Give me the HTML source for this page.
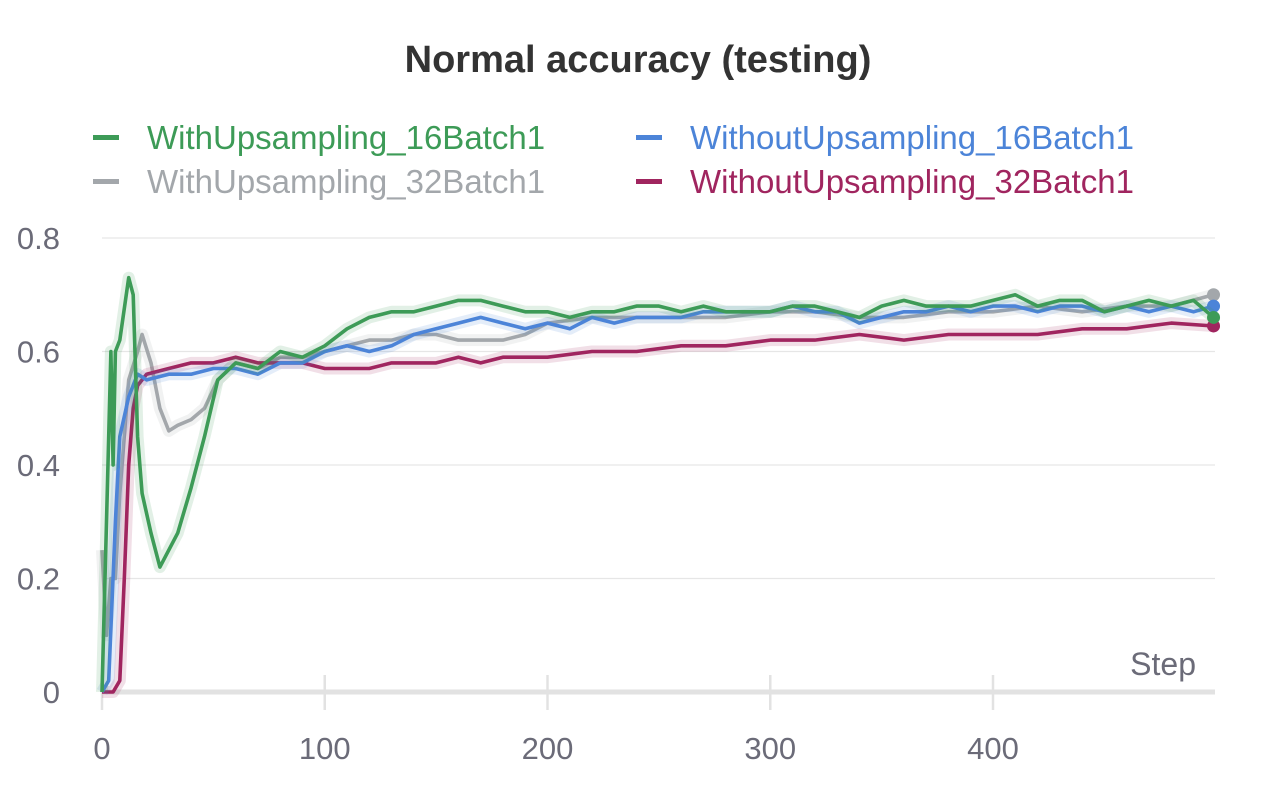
<!DOCTYPE html>
<html><head><meta charset="utf-8"><style>
html,body{margin:0;padding:0;background:#fff;}
body{width:1275px;height:783px;overflow:hidden;font-family:"Liberation Sans",Arial,sans-serif;}
</style></head><body>
<svg id="chart" width="1275" height="783" xmlns="http://www.w3.org/2000/svg" font-family="Liberation Sans, Arial, sans-serif">
<text x="638" y="72" text-anchor="middle" font-size="38" font-weight="bold" fill="#333">Normal accuracy (testing)</text>
<g font-size="33">
 <g><rect x="93" y="135" width="26" height="5" fill="#3d9b57"/><text x="147" y="149" fill="#3d9b57">WithUpsampling_16Batch1</text></g>
 <g><rect x="636" y="135" width="26" height="5" fill="#4c84d8"/><text x="690" y="149" fill="#4c84d8">WithoutUpsampling_16Batch1</text></g>
 <g><rect x="93" y="179" width="26" height="5" fill="#a3a7ab"/><text x="147" y="193" fill="#a3a7ab">WithUpsampling_32Batch1</text></g>
 <g><rect x="636" y="179" width="26" height="5" fill="#a0255f"/><text x="690" y="193" fill="#a0255f">WithoutUpsampling_32Batch1</text></g>
</g>
<g id="grid"></g>
<g id="xaxis"></g>
<g id="yaxis"></g>
<text x="1196" y="675" text-anchor="end" font-size="32" fill="#6b6b78">Step</text>
<g id="series"></g>
</svg>
<script>
const greenSteps=[0,2,4,5,6,8,12,14,16,18,22,26,30,34,40,46,52,60,70,80,90,100,110,120,130,140,150,160,170,180,190,200,210,220,230,240,250,260,270,280,290,300,310,320,330,340,350,360,370,380,390,400,410,420,430,440,450,460,470,480,490,499];
const greenVals=[0,0.3,0.6,0.4,0.6,0.62,0.73,0.7,0.45,0.35,0.28,0.22,0.25,0.28,0.36,0.45,0.55,0.58,0.57,0.6,0.59,0.61,0.64,0.66,0.67,0.67,0.68,0.69,0.69,0.68,0.67,0.67,0.66,0.67,0.67,0.68,0.68,0.67,0.68,0.67,0.67,0.67,0.68,0.68,0.67,0.66,0.68,0.69,0.68,0.68,0.68,0.69,0.70,0.68,0.69,0.69,0.67,0.68,0.69,0.68,0.69,0.66];
const blueSteps=[0,3,6,8,12,16,20,30,40,50,60,70,80,90,100,110,120,130,140,150,160,170,180,190,200,210,220,230,240,250,260,270,280,290,300,310,320,330,340,350,360,370,380,390,400,410,420,430,440,450,460,470,480,490,499];
const blueVals=[0,0.02,0.3,0.45,0.52,0.56,0.55,0.56,0.56,0.57,0.57,0.56,0.58,0.58,0.6,0.61,0.6,0.61,0.63,0.64,0.65,0.66,0.65,0.64,0.65,0.64,0.66,0.65,0.66,0.66,0.66,0.67,0.67,0.67,0.67,0.68,0.67,0.67,0.65,0.66,0.67,0.67,0.68,0.67,0.68,0.68,0.67,0.68,0.68,0.67,0.68,0.67,0.68,0.67,0.68];
const graySteps=[0,2,4,6,8,12,16,18,22,26,30,34,40,46,52,60,70,80,90,100,110,120,130,140,150,160,170,180,190,200,220,240,260,280,300,320,340,360,380,400,420,440,460,480,499];
const grayVals=[0.25,0.1,0.2,0.2,0.35,0.55,0.6,0.63,0.58,0.5,0.46,0.47,0.48,0.5,0.55,0.58,0.57,0.59,0.59,0.6,0.61,0.62,0.62,0.63,0.63,0.62,0.62,0.62,0.63,0.65,0.66,0.66,0.66,0.66,0.67,0.67,0.66,0.66,0.67,0.67,0.68,0.67,0.68,0.68,0.70];
const redSteps=[0,5,8,10,12,14,16,20,30,40,50,60,70,80,90,100,110,120,130,140,150,160,170,180,190,200,220,240,260,280,300,320,340,360,380,400,420,440,460,480,499];
const redVals=[0,0,0.02,0.2,0.4,0.5,0.54,0.56,0.57,0.58,0.58,0.59,0.58,0.58,0.58,0.57,0.57,0.57,0.58,0.58,0.58,0.59,0.58,0.59,0.59,0.59,0.6,0.6,0.61,0.61,0.62,0.62,0.63,0.62,0.63,0.63,0.63,0.64,0.64,0.65,0.645];
const xTicks=[0,100,200,300,400];
const yTicks=[0,0.2,0.4,0.6,0.8];

const NS='http://www.w3.org/2000/svg';
const sx=s=>102+s*2.2275;
const sy=v=>692-v*567.5;
function mk(tag,attrs,parent){const e=document.createElementNS(NS,tag);for(const k in attrs)e.setAttribute(k,attrs[k]);parent.appendChild(e);return e;}
const grid=document.getElementById('grid'),xa=document.getElementById('xaxis'),ya=document.getElementById('yaxis'),sg=document.getElementById('series');
yTicks.forEach(t=>{
  if(t>0){const l=mk('line',{x1:102,x2:1215,y1:sy(t),y2:sy(t),stroke:'#e6e6e6','stroke-width':1.2},grid);
  
  }
  const tx=mk('text',{x:60,y:sy(t)+11,'text-anchor':'end','font-size':31,fill:'#6b6b78'},ya);
  tx.textContent=String(t);
  
  
});
xTicks.forEach(t=>{
  const l=mk('line',{x1:sx(t),x2:sx(t),y1:675,y2:710,stroke:'#e2e2e2','stroke-width':2.5},xa);
  
  
  const tx=mk('text',{x:sx(t),y:759,'text-anchor':'middle','font-size':31,fill:'#6b6b78'},xa);
  tx.textContent=String(t);
  
  
});
const base=mk('line',{x1:102,x2:1215,y1:692,y2:692,stroke:'#e2e2e2','stroke-width':5},xa);


const series=[
 ['gray',graySteps,grayVals,'#a3a7ab'],
 ['red',redSteps,redVals,'#a0255f'],
 ['blue',blueSteps,blueVals,'#4c84d8'],
 ['green',greenSteps,greenVals,'#3d9b57']
];
series.forEach(([n,st,vs,c])=>{
  const d=st.map((s,i)=>(i?'L':'M')+sx(s).toFixed(1)+','+sy(vs[i]).toFixed(1)).join('');
  const band=mk('path',{d:d,fill:'none',stroke:c,'stroke-opacity':0.15,'stroke-width':12,'stroke-linejoin':'round'},sg);
  
  
  const p=mk('path',{d:d,fill:'none',stroke:c,'stroke-width':3.6,'stroke-linejoin':'round'},sg);
  
  
  const dot=mk('circle',{cx:sx(st[st.length-1]),cy:sy(vs[vs.length-1]),r:6.5,fill:c},sg);
  
  
});
</script>
</body></html>
